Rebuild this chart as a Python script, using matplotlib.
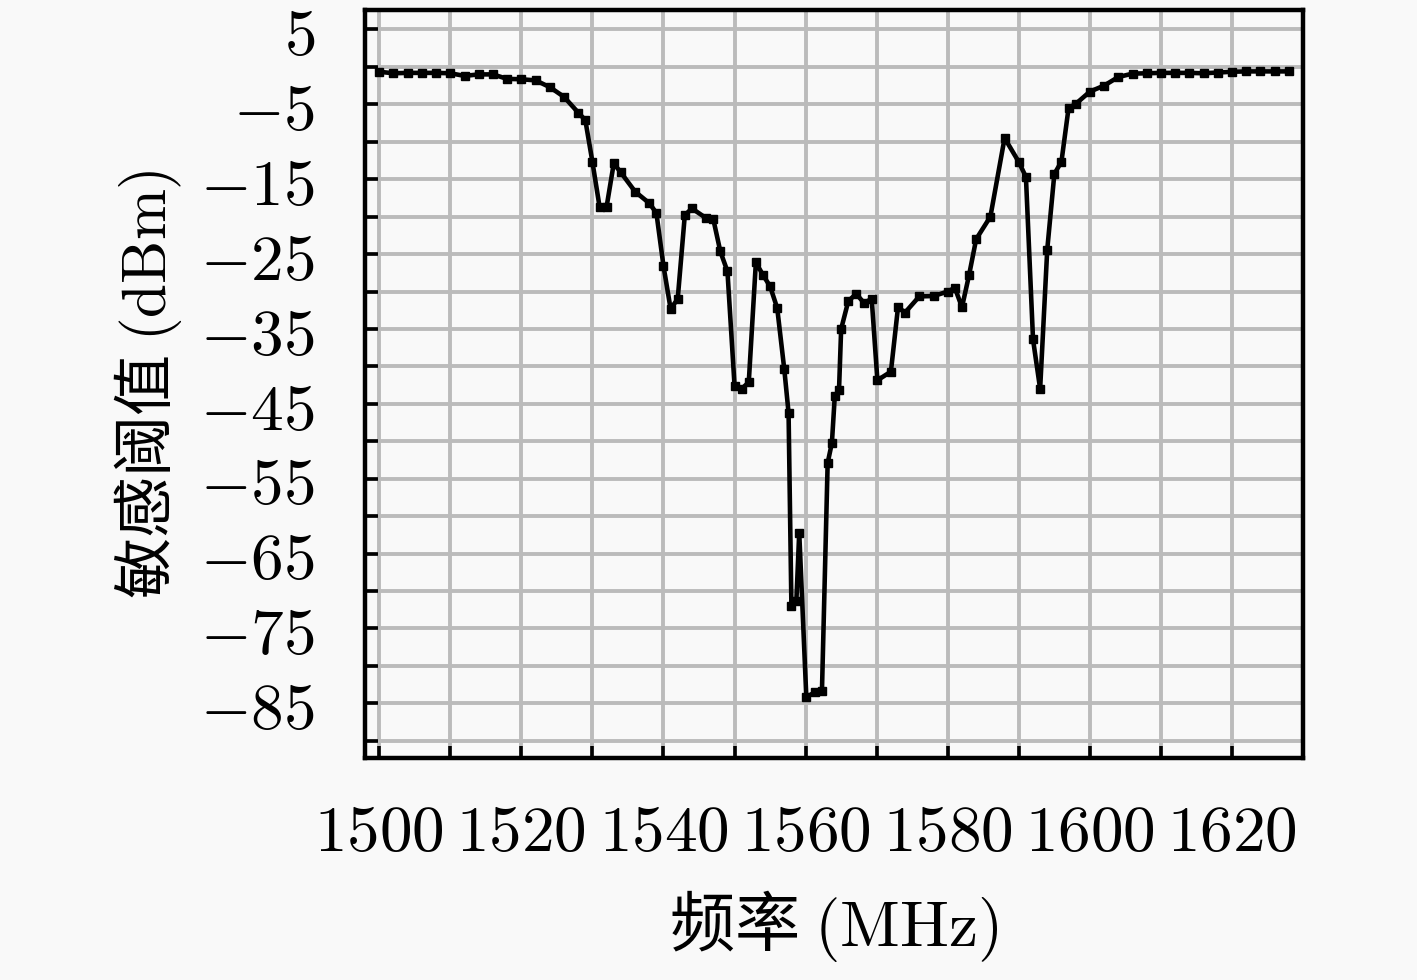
import numpy as np
import matplotlib
matplotlib.use('Agg')
import matplotlib.pyplot as plt
from matplotlib.ticker import MultipleLocator, FuncFormatter

# ── 1. DATA ──────────────────────────────────────────────────────────────────

freq_mhz = [
    1500, 1502, 1504, 1506, 1508, 1510, 1512, 1514, 1516, 1518,
    1520, 1522, 1524, 1526, 1528, 1529, 1530, 1531, 1532, 1533,
    1534, 1536, 1538, 1539, 1540, 1541, 1542, 1543, 1544, 1546,
    1547, 1548, 1549, 1550, 1551, 1552, 1553, 1554, 1555, 1556,
    1557, 1557.6, 1558, 1558.7, 1559.1, 1560.1, 1561.3, 1562.3, 1563.1, 1563.7,
    1564.1, 1564.7, 1565, 1566, 1567.1, 1568.2, 1569.3, 1570.1, 1572, 1573,
    1574, 1576, 1578, 1580, 1581, 1582, 1583, 1584, 1586, 1588,
    1590, 1591, 1592, 1593, 1594, 1595, 1596, 1597, 1598, 1600,
    1602, 1604, 1606, 1608, 1610, 1612, 1614, 1616, 1618, 1620,
    1622, 1624, 1626, 1628,
]

threshold_dbm = [
    -0.65, -0.85, -0.8, -0.8, -0.8, -0.85, -1.2, -1.0, -1.0, -1.6,
    -1.65, -1.8, -2.7, -4.0, -6.1, -7.1, -12.7, -18.65, -18.65, -12.9,
    -14.1, -16.65, -18.2, -19.5, -26.6, -32.3, -31.0, -19.8, -18.9, -20.2,
    -20.3, -24.65, -27.3, -42.6, -43.0, -42.1, -26.1, -27.8, -29.3, -32.2,
    -40.4, -46.2, -72.0, -71.3, -62.2, -84.2, -83.5, -83.3, -52.9, -50.2,
    -44.0, -43.1, -35.0, -31.3, -30.3, -31.5, -31.0, -41.85, -40.7, -32.1,
    -32.8, -30.65, -30.6, -30.0, -29.5, -32.1, -27.8, -23.0, -20.0, -9.5,
    -12.7, -14.7, -36.4, -43.0, -24.4, -14.3, -12.65, -5.5, -4.95, -3.3,
    -2.5, -1.35, -0.9, -0.85, -0.8, -0.8, -0.8, -0.85, -0.75, -0.65,
    -0.6, -0.6, -0.6, -0.6,
]

x_label = '频率 $\\mathrm{(MHz)}$'
y_label = '敏感阈值 $\\mathrm{(dBm)}$'


# ── 2. STYLE ─────────────────────────────────────────────────────────────────

plt.rcParams['font.family'] = ['Noto Sans CJK SC', 'DejaVu Sans']
plt.rcParams['mathtext.fontset'] = 'cm'
bg = '#f9f9f9'


# ── 3. PLOT ──────────────────────────────────────────────────────────────────

fig = plt.figure(figsize=(14.17, 9.8), dpi=100, facecolor=bg)
ax = fig.add_axes([0.2576, 0.2265, 0.662, 0.7633], facecolor=bg)

ax.plot(freq_mhz, threshold_dbm, color='black', linewidth=3.3,
        marker='s', markersize=6, zorder=3)

ax.set_xlim(1498, 1630)
ax.set_ylim(-92.3, 7.6)

ax.xaxis.set_major_locator(MultipleLocator(10))
ax.yaxis.set_major_locator(MultipleLocator(5))
ax.xaxis.set_major_formatter(FuncFormatter(
    lambda v, p: f'${v:.0f}$' if round(v) % 20 == 0 else ''))
ax.yaxis.set_major_formatter(FuncFormatter(
    lambda v, p: f'${v:.0f}$' if round(v - 5) % 10 == 0 else ''))

ax.grid(True, color='#bbbbbb', linewidth=2.8, zorder=0)
ax.tick_params(direction='in', length=9, width=2.6, labelsize=47,
               color='black', pad=30)
ax.tick_params(axis='y', pad=36)

for sp in ax.spines.values():
    sp.set_linewidth(3.2)
    sp.set_color('black')

ax.set_xlabel(x_label, fontsize=47, labelpad=16)
ax.set_ylabel(y_label, fontsize=44, labelpad=12)

fig.savefig('out.png', dpi=100, facecolor=bg)
print("Saved → out.png")
